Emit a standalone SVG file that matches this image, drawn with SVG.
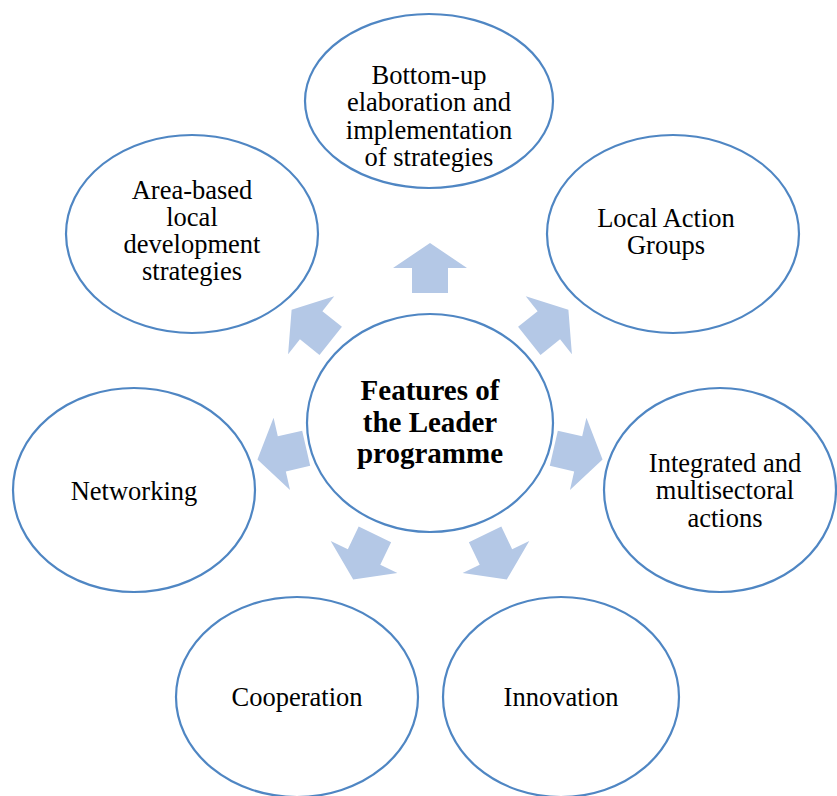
<svg xmlns="http://www.w3.org/2000/svg" width="837" height="796" viewBox="0 0 837 796">
<style>
.node ellipse{fill:#ffffff;stroke:#4F86C3;stroke-width:2.2}
.t{font-family:"Liberation Serif","Times New Roman",serif;font-size:26.5px;fill:#000;text-anchor:middle}
.b{font-weight:bold;font-size:29px}
.arr{fill:#B4C8E6}
</style>
<defs>
<polygon id="ar" points="0,-25 37,0 18,0 18,25 -18,25 -18,0 -37,0"/>
</defs>
<rect width="837" height="796" fill="#fff"/>
<g id="connectors" class="arr">
<use href="#ar" transform="translate(430,268)"/>
<use href="#ar" transform="translate(430,420) rotate(51.43) translate(0,-152)"/>
<use href="#ar" transform="translate(430,420) rotate(102.86) translate(0,-152)"/>
<use href="#ar" transform="translate(430,420) rotate(154.29) translate(0,-152)"/>
<use href="#ar" transform="translate(430,420) rotate(205.71) translate(0,-152)"/>
<use href="#ar" transform="translate(430,420) rotate(257.14) translate(0,-152)"/>
<use href="#ar" transform="translate(430,420) rotate(308.57) translate(0,-152)"/>
</g>
<g id="center" class="node">
<ellipse cx="430" cy="423" rx="123" ry="109"/>
<text class="t b" x="430" y="400">Features of</text>
<text class="t b" x="430" y="432">the Leader</text>
<text class="t b" x="430" y="463">programme</text>
</g>
<g id="bottomup" class="node">
<ellipse cx="429" cy="101" rx="124" ry="87"/>
<text class="t" x="429" y="84">Bottom-up</text>
<text class="t" x="429" y="111">elaboration and</text>
<text class="t" x="429" y="139">implementation</text>
<text class="t" x="429" y="166">of strategies</text>
</g>
<g id="lag" class="node">
<ellipse cx="673" cy="234" rx="126" ry="99"/>
<text class="t" x="666" y="227">Local Action</text>
<text class="t" x="666" y="254">Groups</text>
</g>
<g id="areabased" class="node">
<ellipse cx="192" cy="234" rx="126" ry="99"/>
<text class="t" x="192" y="199">Area-based</text>
<text class="t" x="192" y="226">local</text>
<text class="t" x="192" y="253">development</text>
<text class="t" x="192" y="280">strategies</text>
</g>
<g id="networking" class="node">
<ellipse cx="134" cy="490" rx="121" ry="102"/>
<text class="t" x="134" y="500">Networking</text>
</g>
<g id="integrated" class="node">
<ellipse cx="720" cy="490" rx="116" ry="102"/>
<text class="t" x="725" y="472">Integrated and</text>
<text class="t" x="725" y="499">multisectoral</text>
<text class="t" x="725" y="527">actions</text>
</g>
<g id="cooperation" class="node">
<ellipse cx="297" cy="697" rx="121" ry="100"/>
<text class="t" x="297" y="706">Cooperation</text>
</g>
<g id="innovation" class="node">
<ellipse cx="561" cy="697" rx="118" ry="100"/>
<text class="t" x="561" y="706">Innovation</text>
</g>
</svg>
